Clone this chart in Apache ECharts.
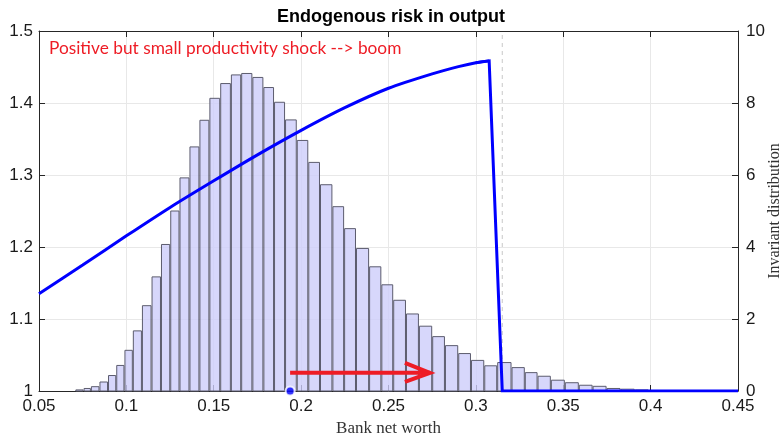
<!DOCTYPE html>
<html>
<head>
<meta charset="utf-8">
<script src="https://cdn.jsdelivr.net/npm/echarts@6/dist/echarts.min.js"></script>
<style>
  html, body { margin: 0; padding: 0; background: #fff; }
  #chart { width: 782px; height: 436px; }
</style>
</head>
<body>
<div id="chart"></div>
<script>
// Histogram of bank net worth: bin edges (non-uniform grid) and densities
const binEdges = [
  0.0708, 0.0755, 0.0797, 0.0846, 0.0895, 0.0942, 0.0989, 0.1037, 0.1089, 0.1144,
  0.1198, 0.1251, 0.1304, 0.1361, 0.1418, 0.1475, 0.1537, 0.1598, 0.1657, 0.1721,
  0.1784, 0.1845, 0.1908, 0.1975, 0.2041, 0.2108, 0.2179, 0.2246, 0.2314, 0.2389,
  0.2459, 0.2527, 0.2600, 0.2674, 0.2750, 0.2823, 0.2899, 0.2972, 0.3048, 0.3122,
  0.3204, 0.3280, 0.3353, 0.3429, 0.3509, 0.3589, 0.3668, 0.3748, 0.3828, 0.3909,
  0.3989
];
const density = [
  0.03, 0.07, 0.12, 0.25, 0.43, 0.71, 1.13, 1.67, 2.37, 3.17,
  4.07, 5.00, 5.92, 6.78, 7.52, 8.13, 8.54, 8.78, 8.82, 8.71,
  8.43, 8.02, 7.53, 6.96, 6.35, 5.73, 5.12, 4.51, 3.96, 3.45,
  2.95, 2.52, 2.14, 1.80, 1.51, 1.26, 1.04, 0.85, 0.70, 0.79,
  0.65, 0.51, 0.41, 0.30, 0.23, 0.16, 0.13, 0.07, 0.05, 0.03
];

// Output as a function of bank net worth (boom branch, then collapse)
const netWorth = [0.05, 0.075, 0.1, 0.125, 0.15, 0.175, 0.2, 0.225, 0.25, 0.275, 0.29, 0.3, 0.3076, 0.3151, 0.45];
const output   = [1.135, 1.175, 1.2155, 1.255, 1.292, 1.328, 1.362, 1.3935, 1.4205, 1.4405, 1.4505, 1.456, 1.4585, 1.0, 1.0];
const peakIndex = 12;

// Threshold where output collapses, current state and shock
const threshold = 0.3151;
const stateNow = [0.1937, 1.0];
const shockArrow = { from: 0.1937, to: 0.2737, level: 1.0253 };

const xTicks = { min: 0.05, max: 0.45, step: 0.05 };
const yLeft = { min: 1, max: 1.5, step: 0.1 };
const yRight = { min: 0, max: 10, step: 2 };

const titleText = 'Endogenous risk in output';
const noteText = 'Positive but small productivity shock --> boom';
const xName = 'Bank net worth';
const yRightName = 'Invariant distribution';

const bins = density.map((h, i) => [binEdges[i], binEdges[i + 1], h]);
const outputPts = netWorth.map((x, i) => [x, output[i]]);

const chart = echarts.init(document.getElementById('chart'), null, { renderer: 'canvas' });

const axisColor = '#262626';
const tickFont = { fontFamily: 'Liberation Sans', fontSize: 17, color: '#1a1a1a' };

const option = {
  animation: false,
  backgroundColor: '#fff',
  title: {
    text: titleText,
    left: 'center',
    top: 3,
    textStyle: { fontFamily: 'Liberation Sans', fontSize: 18, fontWeight: 'bold', color: '#000' }
  },
  grid: { left: 39, right: 44, top: 31, bottom: 45, containLabel: false, outerBoundsMode: 'none' },
  xAxis: [
    {
      type: 'value',
      min: xTicks.min, max: xTicks.max, interval: xTicks.step,
      position: 'bottom',
      name: xName,
      nameLocation: 'middle',
      nameGap: 29,
      nameMoveOverlap: false,
      nameTextStyle: { fontFamily: 'Liberation Serif', fontSize: 17, color: '#333' },
      axisLine: { show: true, lineStyle: { color: axisColor, width: 1 } },
      axisTick: { show: true, inside: true, length: 6, lineStyle: { color: axisColor } },
      axisLabel: Object.assign({ margin: 7, formatter: v => String(+v.toFixed(2)) }, tickFont),
      splitLine: { show: true, lineStyle: { color: '#e8e8e8', width: 1 } }
    },
    {
      type: 'value',
      min: xTicks.min, max: xTicks.max, interval: xTicks.step,
      position: 'top',
      axisLine: { show: true, lineStyle: { color: axisColor, width: 1 } },
      axisTick: { show: true, inside: true, length: 6, lineStyle: { color: axisColor } },
      axisLabel: { show: false },
      splitLine: { show: false }
    }
  ],
  yAxis: [
    {
      type: 'value',
      min: yLeft.min, max: yLeft.max, interval: yLeft.step,
      position: 'left',
      axisLine: { show: true, lineStyle: { color: axisColor, width: 1 } },
      axisTick: { show: true, inside: true, length: 6, lineStyle: { color: axisColor } },
      axisLabel: Object.assign({ margin: 6, formatter: v => String(+v.toFixed(1)) }, tickFont),
      splitLine: { show: true, lineStyle: { color: '#e8e8e8', width: 1 } }
    },
    {
      type: 'value',
      min: yRight.min, max: yRight.max, interval: yRight.step,
      position: 'right',
      name: yRightName,
      nameLocation: 'middle',
      nameGap: 29,
      nameRotate: 90,
      nameMoveOverlap: false,
      nameTextStyle: { fontFamily: 'Liberation Serif', fontSize: 16, color: '#333' },
      axisLine: { show: true, lineStyle: { color: axisColor, width: 1 } },
      axisTick: { show: true, inside: true, length: 6, lineStyle: { color: axisColor } },
      axisLabel: Object.assign({ margin: 8 }, tickFont),
      splitLine: { show: false }
    }
  ],
  series: [
    {
      // histogram of the invariant distribution
      type: 'custom',
      xAxisIndex: 0,
      yAxisIndex: 1,
      z: 2,
      data: bins,
      encode: { x: [0, 1], y: 2 },
      renderItem: function (params, api) {
        const p0 = api.coord([api.value(0), 0]);
        const p1 = api.coord([api.value(1), api.value(2)]);
        return {
          type: 'rect',
          shape: { x: p0[0] + 0.5, y: p1[1], width: p1[0] - p0[0] - 1, height: p0[1] - p1[1] },
          style: { fill: 'rgba(205,205,250,0.8)', stroke: '#5c5c6e', lineWidth: 1 }
        };
      }
    },
    {
      // threshold marker
      type: 'line',
      xAxisIndex: 0,
      yAxisIndex: 0,
      z: 3,
      symbol: 'none',
      lineStyle: { color: '#c8c8c8', type: [4, 4], width: 1 },
      data: [[threshold, yLeft.min], [threshold, yLeft.max]]
    },
    {
      // output, boom branch
      type: 'line',
      xAxisIndex: 0,
      yAxisIndex: 0,
      z: 5,
      symbol: 'none',
      smooth: 0.25,
      lineStyle: { color: '#0000ff', width: 3 },
      data: outputPts.slice(0, peakIndex + 1)
    },
    {
      // output, collapse past the threshold
      type: 'line',
      xAxisIndex: 0,
      yAxisIndex: 0,
      z: 5,
      symbol: 'none',
      lineStyle: { color: '#0000ff', width: 3, join: 'miter' },
      data: outputPts.slice(peakIndex - 1)
    },
    {
      // shock arrow shaft
      type: 'line',
      xAxisIndex: 0,
      yAxisIndex: 0,
      z: 6,
      symbol: 'none',
      lineStyle: { color: '#ee1c25', width: 4 },
      data: [[shockArrow.from, shockArrow.level], [shockArrow.to, shockArrow.level]]
    },
    {
      // shock arrow head
      type: 'line',
      xAxisIndex: 0,
      yAxisIndex: 0,
      z: 6,
      symbol: 'none',
      lineStyle: { color: '#ee1c25', width: 4, join: 'miter' },
      data: [
        [shockArrow.to - 0.0143, shockArrow.level + 0.0138],
        [shockArrow.to, shockArrow.level],
        [shockArrow.to - 0.0143, shockArrow.level - 0.0125]
      ]
    },
    {
      // current state
      type: 'scatter',
      xAxisIndex: 0,
      yAxisIndex: 0,
      z: 7,
      symbol: 'circle',
      symbolSize: 9,
      itemStyle: { color: '#0000ff', borderColor: '#ffffff', borderWidth: 2 },
      data: [stateNow]
    }
  ],
  graphic: [
    {
      type: 'text',
      left: 49,
      top: 40,
      z: 10,
      style: { text: noteText, fill: '#ee1c25', font: '17.3px Lato' }
    }
  ]
};

chart.setOption(option);
</script>
</body>
</html>
